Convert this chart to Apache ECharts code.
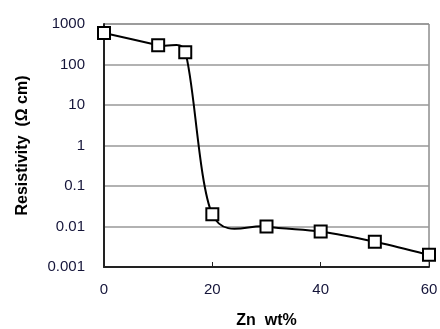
<!DOCTYPE html>
<html>
<head>
<meta charset="utf-8">
<script src="https://cdn.jsdelivr.net/npm/echarts@6/dist/echarts.min.js"></script>
<style>
  html, body { margin: 0; padding: 0; background: #fff; }
  #chart { width: 440px; height: 329px; }
</style>
</head>
<body>
<div id="chart"></div>
<script>
const znWt = [0, 10, 15, 20, 30, 40, 50, 60];
const resistivity = [600, 300, 200, 0.02, 0.01, 0.0075, 0.0042, 0.002];
const yTickLabels = ["0.001", "0.01", "0.1", "1", "10", "100", "1000"];

const chart = echarts.init(document.getElementById("chart"));

const labelFont = { fontFamily: "Liberation Sans, Arial", fontSize: 15, color: "#15153a" };
const pts = znWt.map((x, i) => [x, resistivity[i]]);

// spreadsheet-style smoothed line: Catmull-Rom tangents, control length capped by segment length
function ctrl(from, dir, segLen, sign) {
  const len = Math.hypot(dir[0], dir[1]) / 6;
  const cap = Math.min(len, segLen * 0.5);
  const k = len > 0 ? cap / len / 6 : 0;
  return [from[0] + sign * dir[0] * k, from[1] + sign * dir[1] * k];
}

function renderCurve(params, api) {
  if (params.dataIndex !== 0) return null;
  const p = pts.map(d => api.coord(d));
  let path = "M" + p[0][0] + " " + p[0][1];
  for (let i = 0; i < p.length - 1; i++) {
    const p0 = p[Math.max(i - 1, 0)];
    const p1 = p[i];
    const p2 = p[i + 1];
    const p3 = p[Math.min(i + 2, p.length - 1)];
    const seg = Math.hypot(p2[0] - p1[0], p2[1] - p1[1]);
    const c1 = ctrl(p1, [p2[0] - p0[0], p2[1] - p0[1]], seg, 1);
    const c2 = ctrl(p2, [p3[0] - p1[0], p3[1] - p1[1]], seg, -1);
    path += " C" + c1.join(" ") + " " + c2.join(" ") + " " + p2.join(" ");
  }
  return {
    type: "path",
    shape: { pathData: path },
    style: { fill: null, stroke: "#000", lineWidth: 2 }
  };
}

chart.setOption({
  animation: false,
  grid: {
    left: 104, right: 11, top: 24, bottom: 62,
    outerBoundsMode: "none",
    containLabel: false,
    show: true, borderColor: "#555", borderWidth: 1
  },
  xAxis: {
    type: "value",
    min: 0, max: 60, interval: 20,
    name: "Zn  wt%",
    nameLocation: "middle",
    nameGap: 46,
    nameTextStyle: { fontFamily: "Liberation Sans, Arial", fontSize: 16, fontWeight: "bold", color: "#000" },
    axisLine: { lineStyle: { color: "#222", width: 2 } },
    axisTick: { inside: true, length: 5, lineStyle: { color: "#222" } },
    axisLabel: Object.assign({ margin: 15 }, labelFont),
    splitLine: { show: false }
  },
  yAxis: {
    type: "log",
    logBase: 10,
    min: 0.001, max: 1000,
    name: "Resistivity  (Ω cm)",
    nameLocation: "middle",
    nameGap: 73,
    nameTextStyle: { fontFamily: "Liberation Sans, Arial", fontSize: 16, fontWeight: "bold", color: "#000" },
    axisLine: { show: true, lineStyle: { color: "#222", width: 2 } },
    axisTick: { show: false },
    axisLabel: Object.assign({
      margin: 19,
      formatter: function (v) {
        const i = Math.round(Math.log10(v)) + 3;
        return yTickLabels[i] !== undefined ? yTickLabels[i] : "";
      }
    }, labelFont),
    splitLine: { show: true, lineStyle: { color: "#999", width: 1.5 } }
  },
  series: [
    {
      type: "custom",
      data: pts,
      encode: { x: 0, y: 1 },
      renderItem: renderCurve,
      clip: true,
      z: 3
    },
    {
      type: "scatter",
      data: pts,
      symbol: "rect",
      symbolSize: 12,
      itemStyle: { color: "#fff", borderColor: "#000", borderWidth: 2, opacity: 1 },
      z: 5
    }
  ]
});
</script>
</body>
</html>
